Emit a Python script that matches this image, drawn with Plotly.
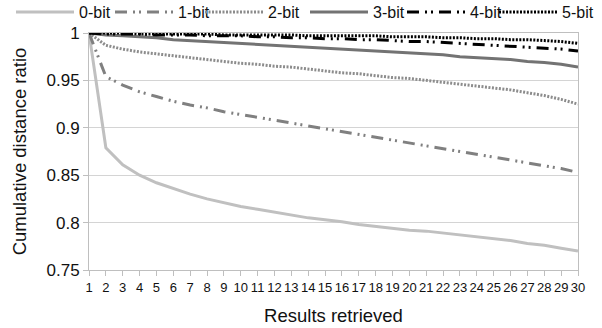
import plotly.graph_objects as go

x_results = list(range(1, 31))

bit0 = [1.000, 0.879, 0.861, 0.850, 0.842, 0.836, 0.830, 0.825, 0.821, 0.817,
        0.814, 0.811, 0.808, 0.805, 0.803, 0.801, 0.798, 0.796, 0.794, 0.792,
        0.791, 0.789, 0.787, 0.785, 0.783, 0.781, 0.778, 0.776, 0.773, 0.770]
bit1 = [1.000, 0.954, 0.945, 0.938, 0.933, 0.928, 0.924, 0.921, 0.917, 0.914,
        0.911, 0.908, 0.905, 0.902, 0.899, 0.896, 0.893, 0.890, 0.887, 0.884,
        0.881, 0.878, 0.875, 0.872, 0.869, 0.866, 0.863, 0.860, 0.857, 0.853]
bit2 = [1.000, 0.987, 0.983, 0.980, 0.978, 0.976, 0.974, 0.972, 0.970, 0.968,
        0.967, 0.965, 0.964, 0.962, 0.960, 0.958, 0.957, 0.955, 0.953, 0.952,
        0.950, 0.948, 0.946, 0.944, 0.942, 0.940, 0.937, 0.934, 0.930, 0.925]
bit3 = [1.000, 0.998, 0.997, 0.996, 0.995, 0.993, 0.992, 0.991, 0.990, 0.989,
        0.988, 0.987, 0.986, 0.985, 0.984, 0.983, 0.982, 0.981, 0.980, 0.979,
        0.978, 0.977, 0.975, 0.974, 0.973, 0.972, 0.970, 0.969, 0.967, 0.964]
bit4 = [1.000, 0.999, 0.999, 0.999, 0.998, 0.998, 0.998, 0.997, 0.997, 0.997,
        0.996, 0.996, 0.995, 0.995, 0.994, 0.994, 0.993, 0.993, 0.992, 0.991,
        0.991, 0.990, 0.989, 0.988, 0.987, 0.986, 0.985, 0.984, 0.983, 0.981]
bit5 = [1.000, 1.000, 1.000, 0.999, 0.999, 0.999, 0.999, 0.999, 0.998, 0.998,
        0.998, 0.998, 0.998, 0.997, 0.997, 0.997, 0.997, 0.997, 0.996, 0.996,
        0.996, 0.995, 0.995, 0.994, 0.994, 0.993, 0.993, 0.992, 0.991, 0.989]

DDOT = "12px,6px,2px,4px,2px,6px"
SDOT = "2px,1.5px"
series = [
    ("0-bit", bit0, "#c0c0c0", "solid", 3),
    ("1-bit", bit1, "#808080", DDOT, 3),
    ("2-bit", bit2, "#8c8c8c", SDOT, 3),
    ("3-bit", bit3, "#737373", "solid", 3),
    ("4-bit", bit4, "#000000", DDOT, 3),
    ("5-bit", bit5, "#000000", SDOT, 3),
]
# legend text start positions (px) in the reference
legend_text_px = [79, 178, 268, 373, 470, 562]

font = "Arial, Liberation Sans, sans-serif"
L, R, T, B = 89, 24, 33, 58
W, H = 602, 328
pw = W - L - R
ph = H - T - B
ITEMW = 58

fig = go.Figure()
layout_legends = {}
for i, (name, ys, color, dash, w) in enumerate(series):
    key = "legend" if i == 0 else f"legend{i + 1}"
    fig.add_trace(go.Scatter(x=x_results, y=ys, name=name, mode="lines",
                             line=dict(color=color, dash=dash, width=w),
                             legend=key))
    left_px = legend_text_px[i] - (ITEMW + 10)
    layout_legends[key] = dict(
        x=(left_px - L) / pw, xanchor="left",
        y=1 + (T - 12) / ph, yanchor="middle",
        orientation="h", font=dict(size=16, family=font, color="#111111"),
        itemwidth=ITEMW, bgcolor="rgba(0,0,0,0)", borderwidth=0,
    )

fig.update_layout(
    width=W, height=H,
    margin=dict(l=L, r=R, t=T, b=B, autoexpand=False),
    paper_bgcolor="white", plot_bgcolor="white",
    font=dict(family=font, size=13, color="#111111"),
    showlegend=True,
    xaxis=dict(range=[1, 30], tickmode="linear", tick0=1, dtick=1,
               showgrid=False, showline=True, linecolor="#bfbfbf", linewidth=1,
               mirror=True, ticks="outside", ticklen=5, tickcolor="#bfbfbf",
               tickfont=dict(size=13), zeroline=False,
               title=dict(text="Results retrieved", font=dict(size=18.5), standoff=15)),
    yaxis=dict(range=[0.75, 1], tickmode="array",
               tickvals=[0.75, 0.8, 0.85, 0.9, 0.95, 1],
               ticktext=["0.75", "0.8", "0.85", "0.9", "0.95", "1"],
               showgrid=True, gridcolor="#d4d4d4", gridwidth=1,
               showline=True, linecolor="#bfbfbf", linewidth=1, mirror=True,
               ticks="outside", ticklen=5, tickcolor="#bfbfbf",
               tickfont=dict(size=17), zeroline=False,
               title=dict(text="Cumulative distance ratio", font=dict(size=18.5), standoff=15)),
    **layout_legends,
)

fig.write_html("out.html", config={"displayModeBar": False},
               post_script="document.body.style.margin='0px';")
